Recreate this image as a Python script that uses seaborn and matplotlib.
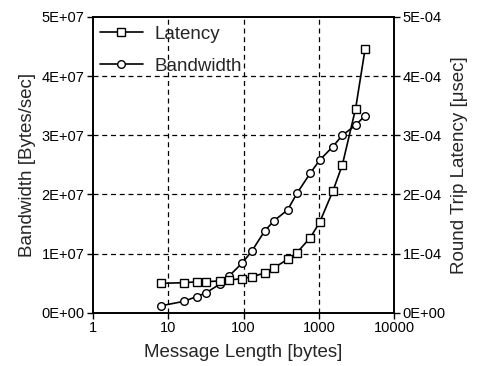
import matplotlib
matplotlib.use("Agg")
import matplotlib.pyplot as plt
import seaborn as sns
import pandas as pd
from matplotlib.lines import Line2D

msg_len = [8, 16, 24, 32, 48, 64, 96, 128, 192, 256, 384, 512, 768, 1024, 1536, 2048, 3072, 4096]
latency = [0.50e-4, 0.51e-4, 0.525e-4, 0.527e-4, 0.54e-4, 0.555e-4, 0.58e-4, 0.61e-4, 0.675e-4,
           0.765e-4, 0.905e-4, 1.02e-4, 1.27e-4, 1.53e-4, 2.06e-4, 2.5e-4, 3.45e-4, 4.45e-4]
bandwidth = [0.12e7, 0.195e7, 0.277e7, 0.343e7, 0.483e7, 0.622e7, 0.843e7, 1.04e7, 1.39e7,
             1.56e7, 1.74e7, 2.02e7, 2.36e7, 2.58e7, 2.81e7, 3.0e7, 3.17e7, 3.33e7]

x_ticks = [1, 10, 100, 1000, 10000]
x_labels = ["1", "10", "100", "1000", "10000"]
bw_ticks = [0, 1e7, 2e7, 3e7, 4e7, 5e7]
bw_labels = ["0E+00", "1E+07", "2E+07", "3E+07", "4E+07", "5E+07"]
lat_ticks = [0, 1e-4, 2e-4, 3e-4, 4e-4, 5e-4]
lat_labels = ["0E+00", "1E-04", "2E-04", "3E-04", "4E-04", "5E-04"]

sns.set_theme(style="ticks")
plt.rcParams['font.family'] = ['Liberation Sans', 'DejaVu Sans']

df = pd.DataFrame({"msg": msg_len, "lat": latency, "bw": bandwidth})

fig = plt.figure(figsize=(4.79, 3.66), dpi=100)
ax = fig.add_axes([0.194, 0.145, 0.629, 0.809])
ax2 = ax.twinx()

lw = 1.2
ms = 5.5
sns.lineplot(data=df, x="msg", y="bw", ax=ax, color="black", lw=lw, marker="o",
             markersize=ms, markerfacecolor="white", markeredgecolor="black", markeredgewidth=1.0)
sns.lineplot(data=df, x="msg", y="lat", ax=ax2, color="black", lw=lw, marker="s",
             markersize=ms, markerfacecolor="white", markeredgecolor="black", markeredgewidth=1.0)

ax.set_xscale("log")
ax.set_xlim(1, 10000)
ax.set_ylim(0, 5e7)
ax2.set_ylim(0, 5e-4)
ax.set_xticks(x_ticks)
ax.set_xticklabels(x_labels)
ax.minorticks_off()
ax2.minorticks_off()
ax.set_yticks(bw_ticks)
ax.set_yticklabels(bw_labels)
ax2.set_yticks(lat_ticks)
ax2.set_yticklabels(lat_labels)

for xv in [10, 100, 1000]:
    ax.axvline(xv, color="black", lw=0.9, ls=(0, (4, 3)), zorder=0)
for yv in [1e7, 2e7, 3e7, 4e7]:
    ax.axhline(yv, color="black", lw=0.9, ls=(0, (4, 3)), zorder=0)

ax.set_xlabel("Message Length [bytes]", fontsize=13.5, labelpad=6)
ax.set_ylabel("Bandwidth [Bytes/sec]", fontsize=13.5)
ax2.set_ylabel("Round Trip Latency [\u03bcsec]", fontsize=13.5)

for a in (ax, ax2):
    a.tick_params(labelsize=10.5, length=4, width=1, color="black", labelcolor="black", pad=2)
    for s in a.spines.values():
        s.set_color("black")
        s.set_linewidth(1.2)

handles = [
    Line2D([], [], color="black", lw=lw, marker="s", markersize=ms, markerfacecolor="white",
           markeredgecolor="black"),
    Line2D([], [], color="black", lw=lw, marker="o", markersize=ms, markerfacecolor="white",
           markeredgecolor="black"),
]
ax2.legend(handles, ["Latency", "Bandwidth"], loc="upper left", bbox_to_anchor=(0.023, 0.970),
           frameon=False, fontsize=13.5, handlelength=2.3, borderaxespad=0.0, borderpad=0.0,
           handletextpad=0.6, labelspacing=0.78)

fig.savefig("out.png", dpi=100)
